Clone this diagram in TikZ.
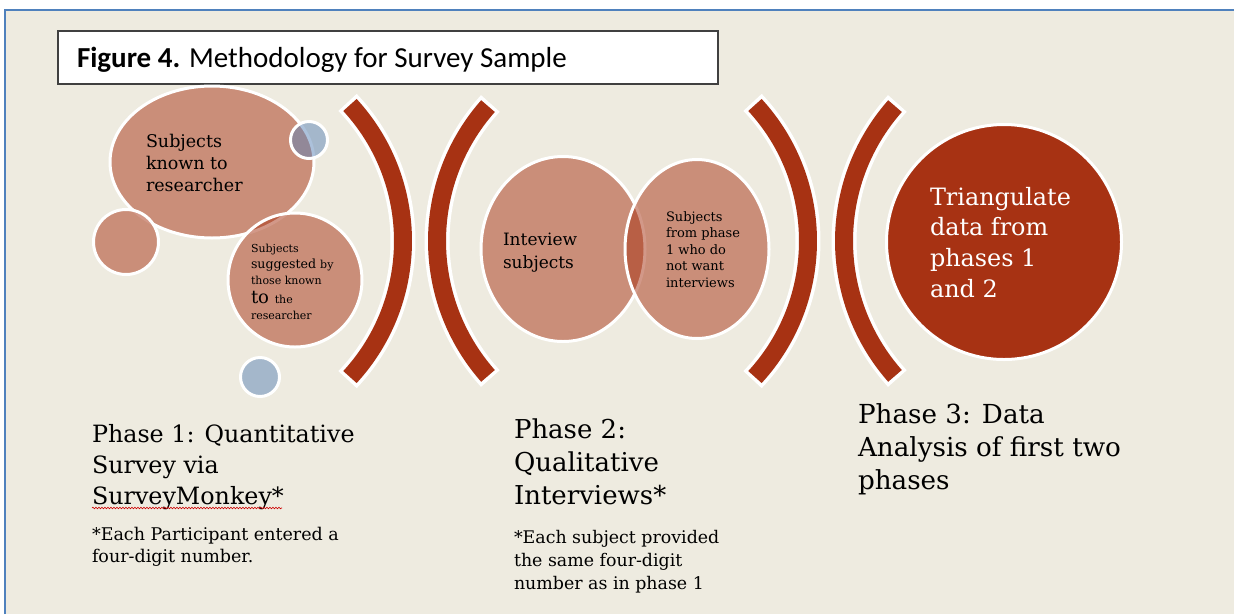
\documentclass[tikz,border=0pt]{standalone}
\usepackage{fontspec}
\setmainfont{DejaVu Serif}
\newfontfamily\titlefont{Carlito}
\usetikzlibrary{shapes.geometric,decorations.pathmorphing}
\definecolor{bgbeige}{RGB}{238,235,224}
\definecolor{darkrust}{RGB}{167,50,19}
\definecolor{blueish}{RGB}{91,132,184}
\definecolor{frameblue}{RGB}{79,129,189}
\definecolor{boxgray}{RGB}{64,64,64}
\newcommand{\fs}[2]{\fontsize{#1}{#2}\selectfont}
\tikzset{
  bubble/.style={ellipse, draw=white, line width=3pt, fill=darkrust, fill opacity=0.5, inner sep=0pt},
  bluebub/.style={circle, draw=white, line width=3pt, fill=blueish, fill opacity=0.5, inner sep=0pt},
  solidbub/.style={circle, draw=white, line width=3pt, fill=darkrust, inner sep=0pt},
  arcback/.style={white, line width=25pt},
  arcfront/.style={darkrust, line width=18pt},
  lbl/.style={anchor=base west, inner sep=0pt, outer sep=0pt, align=left, text=black},
  titlebox/.style={draw=boxgray, line width=1.5pt, fill=white, inner sep=0pt, anchor=north west},
}
\begin{document}
\begin{tikzpicture}[x=1pt,y=-1pt]
\useasboundingbox (0,0) rectangle (1234,614);
\fill[white] (0,0) rectangle (1234,614);
\fill[bgbeige] (5,10) rectangle (1234,614);
\draw[frameblue, line width=2pt] (5,614) -- (5,10) -- (1234,10);

% title
\node[titlebox, minimum width=660pt, minimum height=53pt] (titlebox) at (57,30) {};
\node[lbl, font=\titlefont\fs{29}{32}] (title) at (77,67) {\textbf{Figure 4.} Methodology for Survey Sample};

% arcs
\coordinate (a1) at (202,241);
\coordinate (a2) at (641,241);
\coordinate (a3) at (607,241);
\coordinate (a4) at (1048,241);
\draw[arcback] ([shift={(-43.6:201)}]a1) arc[start angle=-43.6, end angle=43.6, radius=201];
\draw[arcfront] ([shift={(-42.6:201)}]a1) arc[start angle=-42.6, end angle=42.6, radius=201];
\draw[arcback] ([shift={(137.6:204)}]a2) arc[start angle=137.6, end angle=222.4, radius=204];
\draw[arcfront] ([shift={(138.6:204)}]a2) arc[start angle=138.6, end angle=221.4, radius=204];
\draw[arcback] ([shift={(-43.6:201)}]a3) arc[start angle=-43.6, end angle=43.6, radius=201];
\draw[arcfront] ([shift={(-42.6:201)}]a3) arc[start angle=-42.6, end angle=42.6, radius=201];
\draw[arcback] ([shift={(137.6:204)}]a4) arc[start angle=137.6, end angle=222.4, radius=204];
\draw[arcfront] ([shift={(138.6:204)}]a4) arc[start angle=138.6, end angle=221.4, radius=204];

% phase 1 bubbles
\node[bubble, minimum width=204pt, minimum height=152pt] (known) at (212,162) {};
\node[bubble, circle, minimum size=65pt] (small) at (126,242) {};
\node[bubble, circle, minimum size=134pt] (suggested) at (295,280) {};
\node[bluebub, minimum size=37pt] (blueA) at (309,140) {};
\node[bluebub, minimum size=39pt] (blueB) at (260,377) {};

\node[lbl, font=\fs{17.5}{22}] (knowntxt) at (146,191) {Subjects\\known to\\researcher};
\node[lbl] (sg1) at (251,252) {\fs{11}{13}Subjects};
\node[lbl] (sg2) at (251,268) {\fs{12.6}{14}suggested \fs{11}{13}by};
\node[lbl] (sg3) at (251,284) {\fs{11}{13}those known};
\node[lbl] (sg4) at (251,303) {\fs{18}{20}to \fs{11}{13}the};
\node[lbl] (sg5) at (251,319) {\fs{11}{13}researcher};

% phase 2 bubbles
\node[bubble, minimum width=164pt, minimum height=185pt] (interview) at (563,249) {};
\node[bubble, minimum width=144pt, minimum height=179pt] (fromphase) at (697,249) {};
\node[lbl, font=\fs{17}{23}] (interviewtxt) at (503,268) {Inteview\\subjects};
\node[lbl, font=\fs{13}{16.6}] (fromtxt) at (666,287.4) {Subjects\\from phase\\1 who do\\not want\\interviews};

% phase 3 bubble
\node[solidbub, minimum size=235pt] (triang) at (1004,242) {};
\node[lbl, text=white, font=\fs{23.9}{30.8}] (triangtxt) at (930,297.4) {Triangulate\\data from\\phases 1\\and 2};

% phase captions
\node[lbl, font=\fs{23.8}{31}] (ph1) at (92,504) {Phase 1: Quantitative\\Survey via\\SurveyMonkey*};
\coordinate (sqA) at (92,508);
\coordinate (sqB) at (282,508);
\draw[red!80!black, line width=0.6pt, decorate, decoration={snake, amplitude=0.8pt, segment length=3pt}] (sqA) -- (sqB);
\node[lbl, font=\fs{17.5}{22}] (ft1) at (92,562) {*Each Participant entered a\\four-digit number.};

\node[lbl, font=\fs{26}{33}] (ph2) at (514,504) {Phase 2:\\Qualitative\\Interviews*};
\node[lbl, font=\fs{17.4}{23}] (ft2) at (514,589) {*Each subject provided\\the same four-digit\\number as in phase 1};

\node[lbl, font=\fs{26.2}{33}] (ph3) at (858,489) {Phase 3: Data\\Analysis of first two\\phases};
\end{tikzpicture}
\end{document}
